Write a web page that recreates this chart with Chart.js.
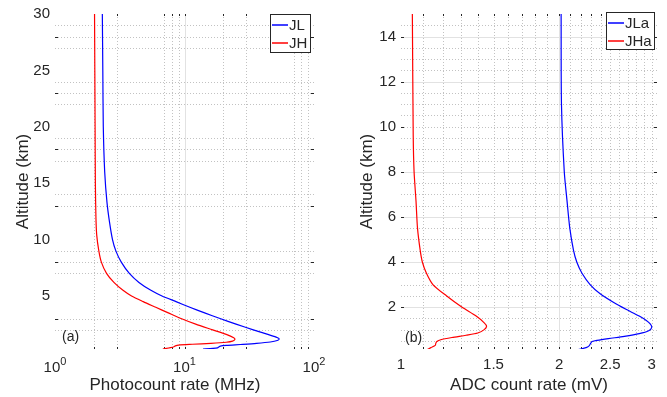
<!DOCTYPE html>
<html lang="en">
<head>
<meta charset="UTF-8">
<title>Altitude profiles</title>
<style>
  body{margin:0;background:#fff;}
  #wrap{position:relative;width:667px;height:397px;}
  canvas{position:absolute;top:0;}
  #left{left:0;}
  #right{left:340px;}
</style>
</head>
<body>
<div id="wrap">
  <canvas id="left" width="340" height="397"></canvas>
  <canvas id="right" width="327" height="397"></canvas>
</div>
<script src="https://cdn.jsdelivr.net/npm/chart.js"></script>
<script>
// (a) photocount rate (MHz) against altitude (km)
const jlAlt  = [30, 25, 20, 16, 13.3, 11.5, 10, 9, 8, 7, 6.2, 5.5, 5.0, 4.5, 4.0, 3.5, 3.0, 2.5, 2.0, 1.6, 1.35, 1.2, 1.05, 0.92, 0.8, 0.7, 0.62, 0.56, 0.48, 0.4, 0.35, 0.3]
const jlRate = [2.32, 2.34, 2.36, 2.42, 2.52, 2.64, 2.78, 2.95, 3.25, 3.75, 4.45, 5.5, 6.7, 8.6, 11, 14.3, 18.8, 25, 34, 44, 51, 53.9, 52, 46, 36, 27, 21, 18.9, 18.4, 18, 16.5, 13.9]
const jhAlt  = [30, 25, 20, 15, 12, 10.4, 9, 8, 7, 6.2, 5.5, 5.0, 4.5, 4.0, 3.5, 3.0, 2.5, 2.0, 1.6, 1.3, 1.15, 1.0, 0.9, 0.8, 0.72, 0.65, 0.58, 0.5, 0.42, 0.3]
const jhRate = [2.02, 2.03, 2.04, 2.05, 2.07, 2.10, 2.18, 2.28, 2.5, 2.85, 3.35, 3.9, 4.8, 6.0, 7.5, 9.4, 12.2, 16.5, 21, 24, 24.5, 23.5, 21, 16, 11.5, 9.0, 8.5, 8.3, 7.8, 6.8]

// (b) ADC count rate (mV) against altitude (km)
const jlaAlt  = [15, 11, 8, 6.7, 5.5, 4.5, 4.0, 3.5, 3.0, 2.6, 2.2, 1.9, 1.6, 1.4, 1.25, 1.1, 0.95, 0.82, 0.7, 0.6, 0.52, 0.47, 0.42, 0.35, 0.28, 0.2, 0.12]
const jlaRate = [2.017, 2.02, 2.045, 2.07, 2.095, 2.13, 2.16, 2.21, 2.29, 2.39, 2.54, 2.68, 2.84, 2.93, 2.98, 3.0, 2.96, 2.84, 2.66, 2.48, 2.36, 2.31, 2.30, 2.29, 2.28, 2.25, 2.18]
const jhaAlt  = [15, 9.6, 8, 6.7, 5.5, 4.5, 4.0, 3.5, 3.0, 2.5, 2.0, 1.6, 1.3, 1.15, 1.0, 0.85, 0.75, 0.65, 0.55, 0.47, 0.4, 0.3, 0.2, 0.1]
const jhaRate = [1.051, 1.055, 1.059, 1.068, 1.075, 1.088, 1.098, 1.118, 1.15, 1.22, 1.305, 1.39, 1.44, 1.455, 1.44, 1.40, 1.33, 1.25, 1.19, 1.17, 1.165, 1.162, 1.14, 1.119]

// ticks
const aXTicks = [1, 10, 100]
const aYTicks = [5, 10, 15, 20, 25, 30]
const bXTicks = [1, 1.5, 2, 2.5, 3]
const bYTicks = [2, 4, 6, 8, 10, 12, 14]

// grid lines
const aGridXMajor = [10]
const aGridXMinor = [2, 3, 7, 8, 9, 20, 30, 70, 80, 90]
const aGridYMinor = [29, 28, 27, 24, 23, 22, 19, 18, 17, 14, 13, 9, 8, 7, 3, 2]
const aMarksY = [28, 23, 18, 13, 8, 3]
const bGridXMajor = [2]
const bGridXMinor = [1.1, 1.2, 1.3, 1.4, 1.5, 1.6, 1.7, 1.8, 1.9, 2.1, 2.2, 2.3, 2.4, 2.5, 2.6, 2.7, 2.8, 2.9, 3]
const bGridYMajor = [2, 4, 6, 8, 12, 14]
const bGridYMinor = [0.5, 1, 1.5, 2.5, 3, 3.5, 4.5, 5, 5.5, 6.5, 7, 7.5, 8.5, 9, 9.5, 10, 10.5, 11, 11.5, 12.5, 13, 13.5, 14.5]

const FONT = '"Liberation Sans", Arial, sans-serif'
const INK = '#262626'

const pts = (xs, ys) => xs.map((v, i) => ({x: v, y: ys[i]}))

function vline(ctx, px, a, len) {
  px = Math.round(px) + 0.5
  ctx.beginPath()
  if (len) {
    ctx.moveTo(px, a.top); ctx.lineTo(px, a.top + len)
    ctx.moveTo(px, a.bottom); ctx.lineTo(px, a.bottom - len)
  } else {
    ctx.moveTo(px, a.top); ctx.lineTo(px, a.bottom)
  }
  ctx.stroke()
}
function hline(ctx, py, a, len) {
  py = Math.round(py) + 0.5
  ctx.beginPath()
  if (len) {
    ctx.moveTo(a.left, py); ctx.lineTo(a.left + len, py)
    ctx.moveTo(a.right, py); ctx.lineTo(a.right - len, py)
  } else {
    ctx.moveTo(a.left, py); ctx.lineTo(a.right, py)
  }
  ctx.stroke()
}

const matlabAxes = {
  id: 'matlabAxes',
  beforeDatasetsDraw(chart, args, o) {
    const {ctx, chartArea: a, scales: {x, y}} = chart
    ctx.save()
    ctx.lineWidth = 1
    ctx.strokeStyle = '#c2c2c2'
    ctx.setLineDash([1, 2])
    o.xMinor.forEach(v => vline(ctx, x.getPixelForValue(v), a))
    o.yMinor.forEach(v => hline(ctx, y.getPixelForValue(v), a))
    ctx.setLineDash([])
    ctx.strokeStyle = '#e2e2e2'
    o.xMajor.forEach(v => vline(ctx, x.getPixelForValue(v), a))
    o.yMajor.forEach(v => hline(ctx, y.getPixelForValue(v), a))
    // small inward tick marks
    ctx.strokeStyle = INK
    o.xMinor.concat(o.xMajor).forEach(v => vline(ctx, x.getPixelForValue(v), a, 2))
    o.yMarks.forEach(v => hline(ctx, y.getPixelForValue(v), a, 3))
    ctx.restore()
  },
  afterDraw(chart, args, o) {
    const {ctx, chartArea: a, scales: {x}} = chart
    ctx.save()
    ctx.fillStyle = INK
    // power-of-ten labels
    if (o.pow) {
      o.pow.forEach(v => {
        const px = x.getPixelForValue(v)
        const e = String(Math.round(Math.log10(v)))
        ctx.font = '15px ' + FONT
        const w1 = ctx.measureText('10').width
        ctx.font = '11px ' + FONT
        const w2 = ctx.measureText(e).width
        const x0 = px - (w1 + w2) / 2
        ctx.textAlign = 'left'
        ctx.textBaseline = 'alphabetic'
        ctx.font = '15px ' + FONT
        ctx.fillText('10', x0, 372)
        ctx.font = '11px ' + FONT
        ctx.fillText(e, x0 + w1, 365)
      })
    }
    // axis titles
    ctx.font = '17px ' + FONT
    ctx.textAlign = 'center'
    ctx.textBaseline = 'alphabetic'
    ctx.fillText(o.xTitle, o.xTitleX, 390)
    ctx.save()
    ctx.translate(o.yTitleX, (a.top + a.bottom) / 2)
    ctx.rotate(-Math.PI / 2)
    ctx.fillText(o.yTitle, 0, 0)
    ctx.restore()
    // panel tag
    ctx.font = '14px ' + FONT
    ctx.textAlign = 'left'
    ctx.fillText(o.tag, o.tagX, o.tagY)
    // legend
    const L = o.legend
    ctx.fillStyle = '#fff'
    ctx.fillRect(L.x, L.y, L.w, L.h)
    ctx.strokeStyle = INK
    ctx.lineWidth = 1
    ctx.strokeRect(L.x + 0.5, L.y + 0.5, L.w, L.h)
    ctx.font = '15px ' + FONT
    ctx.textBaseline = 'middle'
    chart.data.datasets.forEach((d, i) => {
      const ry = L.y + 11 + i * 18
      ctx.strokeStyle = d.borderColor
      ctx.lineWidth = 1.5
      ctx.beginPath()
      ctx.moveTo(L.x + 2, ry); ctx.lineTo(L.x + 18, ry)
      ctx.stroke()
      ctx.fillStyle = INK
      ctx.fillText(d.label, L.x + 19, ry + 1)
    })
    ctx.restore()
  }
}

function lineSet(label, xs, ys, color) {
  return {label: label, data: pts(xs, ys), showLine: true, borderColor: color,
          borderWidth: 1.2, pointRadius: 0, tension: 0.25, fill: false}
}

function makeChart(id, datasets, cfg) {
  return new Chart(document.getElementById(id), {
    type: 'scatter',
    data: {datasets: datasets},
    plugins: [matlabAxes],
    options: {
      responsive: false, animation: false, events: [], devicePixelRatio: 1,
      layout: {padding: {left: 0, right: cfg.padRight, top: 12, bottom: 0}},
      plugins: {legend: {display: false}, tooltip: {enabled: false}, matlabAxes: cfg.deco},
      scales: {
        x: {
          type: 'logarithmic', min: cfg.xMin, max: cfg.xMax, position: 'bottom',
          grid: {display: false, drawTicks: false}, border: {display: false},
          afterBuildTicks: s => { s.ticks = cfg.xTicks.map(v => ({value: v})) },
          afterFit: s => { s.height = 48 },
          ticks: {display: cfg.xLabels, padding: 7, color: INK, font: {family: FONT, size: 15},
                  callback: v => String(v)}
        },
        y: {
          type: 'linear', min: cfg.yMin, max: cfg.yMax,
          grid: {display: false, drawTicks: false}, border: {display: false},
          afterBuildTicks: s => { s.ticks = cfg.yTicks.map(v => ({value: v})) },
          afterFit: s => { s.width = cfg.yWidth },
          ticks: {padding: 5, color: INK, font: {family: FONT, size: 15}, callback: v => String(v)}
        }
      }
    }
  })
}

makeChart('left', [
  lineSet('JL', jlRate, jlAlt, '#0000ff'),
  lineSet('JH', jhRate, jhAlt, '#ff0000')
], {
  padRight: 26, xMin: 1, xMax: 100, yMin: 0.3, yMax: 30, yWidth: 55,
  xTicks: aXTicks, yTicks: aYTicks, xLabels: false,
  deco: {
    xMajor: aGridXMajor, xMinor: aGridXMinor, yMajor: [], yMinor: aGridYMinor, yMarks: aMarksY,
    pow: aXTicks, xTitle: 'Photocount rate (MHz)', xTitleX: 175, yTitle: 'Altitude (km)', yTitleX: 28,
    tag: '(a)', tagX: 62, tagY: 341, legend: {x: 270, y: 14, w: 40, h: 38}
  }
})

makeChart('right', [
  lineSet('JLa', jlaRate, jlaAlt, '#0000ff'),
  lineSet('JHa', jhaRate, jhaAlt, '#ff0000')
], {
  padRight: 10, xMin: 1, xMax: 3.07, yMin: 0.14, yMax: 15, yWidth: 61,
  xTicks: bXTicks, yTicks: bYTicks, xLabels: true,
  deco: {
    xMajor: bGridXMajor, xMinor: bGridXMinor, yMajor: bGridYMajor, yMinor: bGridYMinor, yMarks: bYTicks,
    pow: null, xTitle: 'ADC count rate (mV)', xTitleX: 189, yTitle: 'Altitude (km)', yTitleX: 32,
    tag: '(b)', tagX: 65, tagY: 342, legend: {x: 266, y: 12, w: 48, h: 37}
  }
})
</script>
</body>
</html>
